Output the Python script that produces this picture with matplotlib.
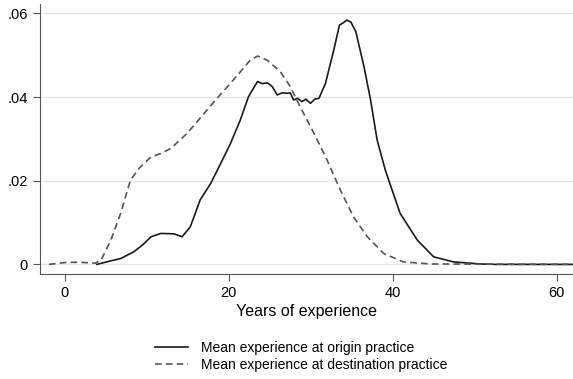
import matplotlib
matplotlib.use("Agg")
import matplotlib.pyplot as plt

plt.rcParams['font.family'] = ['Liberation Sans', 'DejaVu Sans']

# origin practice (solid)
x_origin = [3.9, 5.5, 6.8, 8.4, 9.5, 10.5, 11.7, 13.3, 14.3, 15.3, 16.5, 17.8, 19.0,
            20.2, 21.4, 22.4, 23.5, 24.1, 24.7, 25.3, 25.9, 26.5, 27.1, 27.5, 27.9,
            28.4, 28.9, 29.4, 29.96, 30.5, 31.0, 31.8, 32.8, 33.5, 34.0, 34.4, 34.9,
            35.5, 36.5, 37.3, 38.1, 39.1, 40.9, 43.0, 45.0, 47.4, 50.7, 52.7, 62.0]
y_origin = [0.0, 0.0008, 0.0014, 0.003, 0.0047, 0.0066, 0.0074, 0.0073, 0.0066, 0.009,
            0.0154, 0.0194, 0.0241, 0.0289, 0.0345, 0.0401, 0.0437, 0.0432, 0.0434,
            0.0425, 0.0405, 0.041, 0.0409, 0.041, 0.0393, 0.0397, 0.0389, 0.0395,
            0.0385, 0.0395, 0.0397, 0.0433, 0.0512, 0.0572, 0.0578, 0.0584, 0.0579,
            0.0556, 0.0472, 0.0393, 0.0297, 0.0225, 0.0122, 0.0058, 0.0018, 0.0006,
            0.0001, 0.0, 0.0]

# destination practice (dashed)
x_dest = [-1.95, 0.3, 1.9, 3.7, 4.4, 5.6, 6.8, 8.0, 9.2, 10.5, 11.7, 12.9, 14.9,
          17.0, 18.2, 20.2, 21.4, 22.6, 23.5, 24.7, 26.3, 27.5, 28.7, 30.4, 32.0,
          33.6, 35.2, 36.9, 38.9, 41.3, 44.6, 62.0]
y_dest = [0.0, 0.0005, 0.0005, 0.0003, 0.001, 0.0058, 0.0122, 0.0202, 0.0233, 0.0257,
          0.0265, 0.0277, 0.0313, 0.0361, 0.0389, 0.0433, 0.046, 0.0488, 0.0498,
          0.0488, 0.046, 0.0425, 0.0377, 0.0313, 0.0249, 0.0178, 0.0114, 0.0066,
          0.0026, 0.0006, 0.0001, 0.0]

xticks = [0, 20, 40, 60]
yticks = [0, 0.02, 0.04, 0.06]
ytick_labels = ['0', '.02', '.04', '.06']

fig = plt.figure(figsize=(5.73, 3.79), dpi=100)
ax = fig.add_axes([0.069, 0.277, 0.931, 0.712])

ax.plot(x_origin, y_origin, color='#1a1a1a', lw=1.2,
        label='Mean experience at origin practice')
ax.plot(x_dest, y_dest, color='#555555', lw=1.2, ls=(0, (4, 2.5)),
        label='Mean experience at destination practice')

ax.set_xlim(-3.1, 62.0)
ax.set_ylim(-0.0023, 0.0622)
ax.set_xticks(xticks)
ax.set_yticks(yticks)
ax.set_yticklabels(ytick_labels)
ax.grid(axis='y', color='#e6e6e6', lw=1)
ax.set_axisbelow(True)

for s in ['top', 'right']:
    ax.spines[s].set_visible(False)
for s in ['left', 'bottom']:
    ax.spines[s].set_color('#555555')
ax.tick_params(colors='#555555', labelcolor='black', labelsize=10.5, length=5)
ax.set_xlabel('Years of experience', fontsize=11.5, labelpad=3)

fig.legend(loc='upper center', bbox_to_anchor=(0.525, 0.118), frameon=False,
           fontsize=10, handlelength=2.4, handletextpad=0.9,
           labelspacing=0.2, borderpad=0)

fig.savefig('out.png', dpi=100)
